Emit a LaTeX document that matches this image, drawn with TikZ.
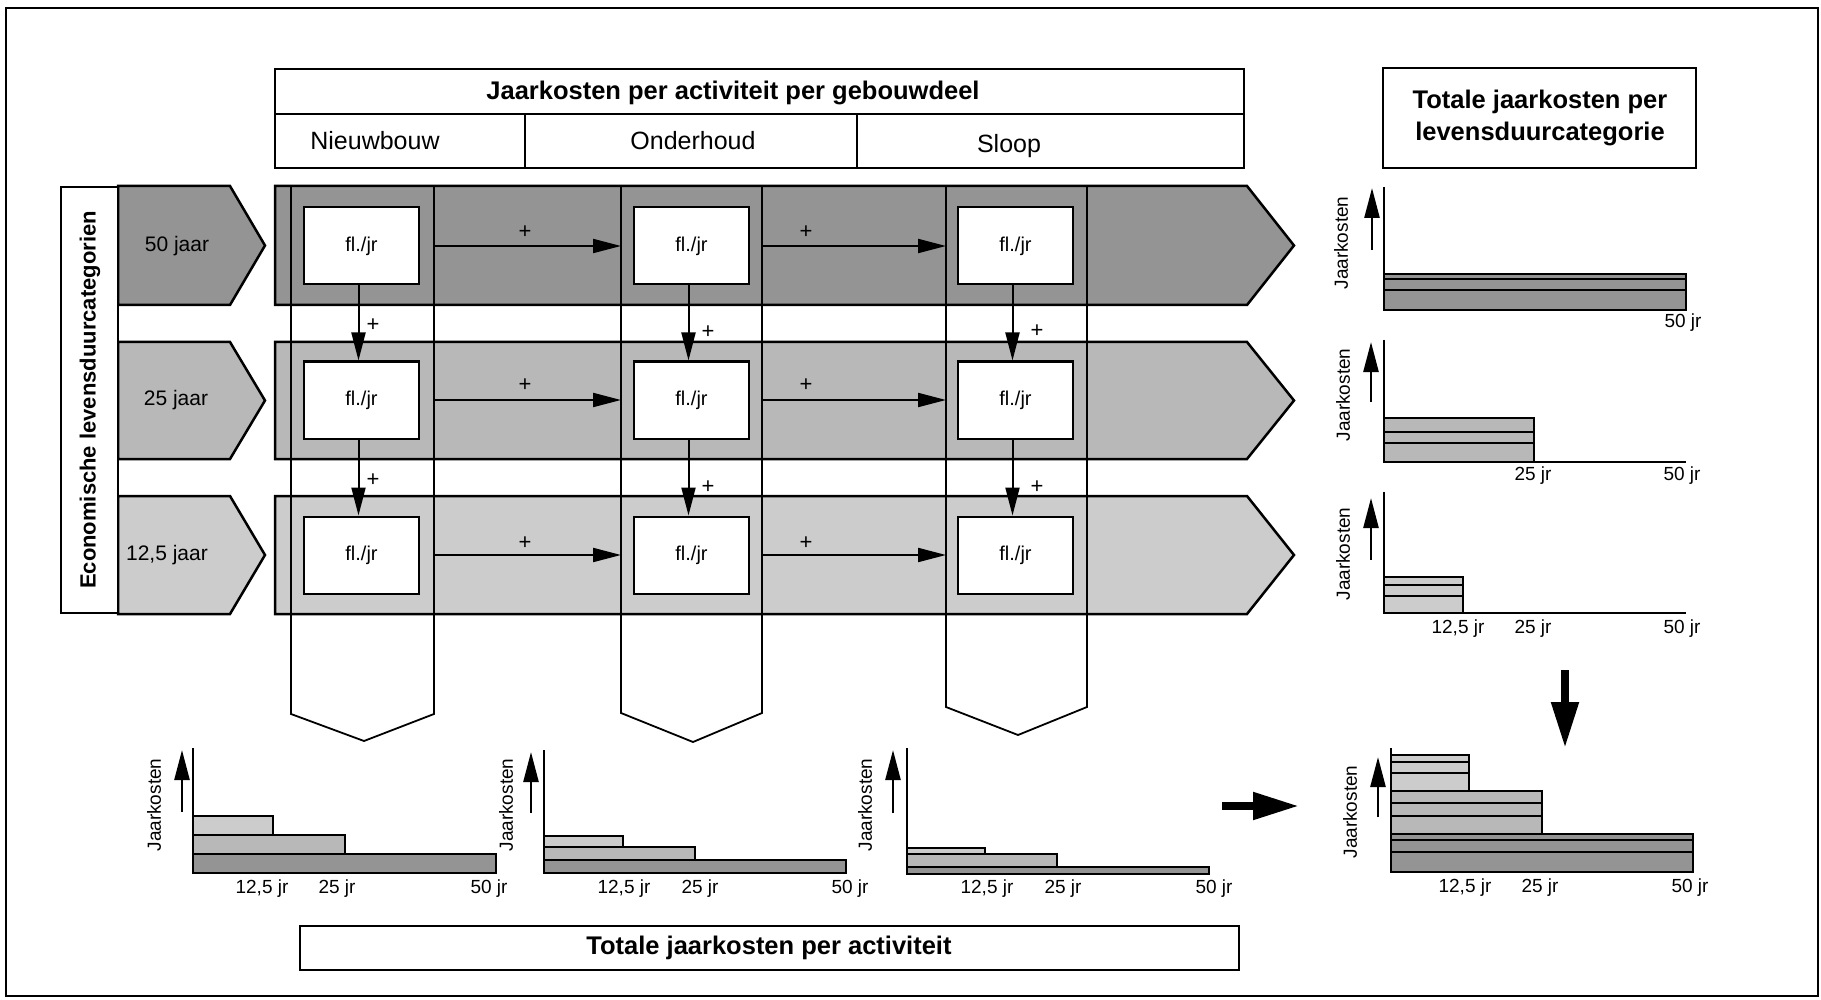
\documentclass[tikz,border=0pt]{standalone}
\usepackage{fontspec}
\setmainfont{Liberation Sans}
\usetikzlibrary{arrows.meta}
\definecolor{shA}{gray}{0.58}
\definecolor{shB}{gray}{0.72}
\definecolor{shC}{gray}{0.80}
\begin{document}
\begin{tikzpicture}[x=1pt,y=-1pt,
 rowline/.style={line width=2.5pt, line join=miter},
 colline/.style={line width=1.8pt},
 flbox/.style={draw, fill=white, line width=2pt, minimum width=115pt, minimum height=77pt, inner sep=0pt, font=\fontsize{20}{24}\selectfont},
 flow/.style={line width=2pt, -{Triangle[length=28pt,width=14pt]}},
 plus/.style={inner sep=0pt, font=\fontsize{22}{24}\selectfont},
 ttl/.style={inner sep=0pt, font=\fontsize{25.5}{32}\selectfont\bfseries},
 hdr/.style={inner sep=0pt, font=\fontsize{25}{30}\selectfont},
 yl/.style={rotate=90, inner sep=0pt, font=\fontsize{19}{22}\selectfont},
 tk/.style={inner sep=0pt, font=\fontsize{19}{22}\selectfont},
 axis/.style={line width=1.8pt},
 bar/.style={draw, line width=2pt},
 uparr/.style={line width=2.5pt, -{Triangle[length=30pt,width=15pt]}},
 bigarr/.style={line width=8pt, -{Triangle[length=46pt,width=26pt]}},
 jaar/.style={inner sep=0pt, font=\fontsize{21}{24}\selectfont},
 tbox/.style={draw, line width=2pt}]
\useasboundingbox (0,0) rectangle (1821,1000);
\fill[white] (0,0) rectangle (1821,1000);
% outer frame
\draw[line width=2pt] (6,8) rectangle (1818,996);

% header
\draw[tbox] (275,69) rectangle (1244,168);
\draw[line width=2pt] (275,114) -- (1244,114);
\draw[line width=2pt] (525,114) -- (525,168);
\draw[line width=2pt] (857,114) -- (857,168);
\node[ttl] (htitle) at (733,93) {Jaarkosten per activiteit per gebouwdeel};
\node[hdr] (hnieuw) at (375,141) {Nieuwbouw};
\node[hdr] (honder) at (693,141) {Onderhoud};
\node[hdr] (hsloop) at (1009,146) {Sloop};

% right title
\draw[tbox] (1383,68) rectangle (1696,168);
\node[ttl, align=center] (rtitle) at (1540,118) {Totale jaarkosten per\\levensduurcategorie};

% rows
\foreach \ya/\yb/\ym/\cc in {186/305/245.5/shA, 342/459/400.5/shB, 496/614/555/shC} {
 \draw[rowline, fill=\cc] (275,\ya) -- (1247,\ya) -- (1294,\ym) -- (1247,\yb) -- (275,\yb) -- cycle;
 \draw[rowline, fill=\cc] (118,\ya) -- (230,\ya) -- (265,\ym) -- (230,\yb) -- (118,\yb) -- cycle;
}
\node[jaar] (j50) at (177,246) {50 jaar};
\node[jaar] (j25) at (176,400) {25 jaar};
\node[jaar] (j12) at (167,555) {12,5 jaar};

% left label box
\draw[rowline, fill=white] (61,187) rectangle (118,613);
\node[rotate=90, inner sep=0pt, font=\fontsize{22}{26}\selectfont\bfseries] (elc) at (90,400) {Economische levensduurcategorien};

% columns
\draw[colline] (291,186) -- (291,714) -- (364,741) -- (434,714) -- (434,186);
\draw[colline] (621,186) -- (621,713) -- (693,742) -- (762,713) -- (762,186);
\draw[colline] (946,186) -- (946,707) -- (1018,735) -- (1087,707) -- (1087,186);
\coordinate (k1R) at (434,0);
\coordinate (k2L) at (621,0);
\coordinate (k2R) at (762,0);
\coordinate (k3L) at (946,0);

% boxes
\foreach \r/\yy in {1/246, 2/400, 3/555} {
 \node[flbox] (b\r1) at (361.5,\yy) {fl./jr};
 \node[flbox] (b\r2) at (691.5,\yy) {fl./jr};
 \node[flbox] (b\r3) at (1015.5,\yy) {fl./jr};
}

% horizontal arrows
\foreach \r/\py in {1/232, 2/385, 3/543} {
 \draw[flow] (k1R |- b\r1) -- (k2L |- b\r2);
 \draw[flow] (k2R |- b\r2) -- (k3L |- b\r3);
 \node[plus] (ph\r a) at (525,\py) {+};
 \node[plus] (ph\r b) at (806,\py) {+};
}
% vertical arrows
\foreach \c in {1,2,3} {
 \draw[flow] ([xshift=-3pt]b1\c.south) -- ([xshift=-3pt]b2\c.north);
 \draw[flow] ([xshift=-3pt]b2\c.south) -- ([xshift=-3pt]b3\c.north);
}
\node[plus] (pv1a) at (373,325) {+};
\node[plus] (pv2a) at (708,332) {+};
\node[plus] (pv3a) at (1037,331) {+};
\node[plus] (pv1b) at (373,480) {+};
\node[plus] (pv2b) at (708,487) {+};
\node[plus] (pv3b) at (1037,487) {+};

% ---------- right charts ----------
% R1
\draw[bar, fill=shA] (1384,274) rectangle (1686,279);
\draw[bar, fill=shA] (1384,279) rectangle (1686,290);
\draw[bar, fill=shA] (1384,290) rectangle (1686,310);
\draw[axis] (1384,187) -- (1384,310);
\coordinate (r1a) at (1372,250); \coordinate (r1b) at (1372,188);
\draw[uparr] (r1a) -- (r1b);
\node[yl] (r1y) at (1341,243) {Jaarkosten};
\node[tk] (r1t50) at (1683,323) {50 jr};
% R2
\draw[bar, fill=shB] (1384,418) rectangle (1534,432);
\draw[bar, fill=shB] (1384,432) rectangle (1534,443);
\draw[bar, fill=shB] (1384,443) rectangle (1534,462);
\draw[axis] (1384,340) -- (1384,462) -- (1686,462);
\coordinate (r2a) at (1371,402); \coordinate (r2b) at (1371,342);
\draw[uparr] (r2a) -- (r2b);
\node[yl] (r2y) at (1343,395) {Jaarkosten};
\node[tk] (r2t25) at (1533,476) {25 jr};
\node[tk] (r2t50) at (1682,476) {50 jr};
% R3
\draw[bar, fill=shC] (1384,577) rectangle (1463,585);
\draw[bar, fill=shC] (1384,585) rectangle (1463,596);
\draw[bar, fill=shC] (1384,596) rectangle (1463,613);
\draw[axis] (1384,492) -- (1384,613) -- (1686,613);
\coordinate (r3a) at (1371,560); \coordinate (r3b) at (1371,498);
\draw[uparr] (r3a) -- (r3b);
\node[yl] (r3y) at (1343,554) {Jaarkosten};
\node[tk] (r3t12) at (1458,629) {12,5 jr};
\node[tk] (r3t25) at (1533,629) {25 jr};
\node[tk] (r3t50) at (1682,629) {50 jr};

% big arrows
\coordinate (da) at (1565,670); \coordinate (db) at (1565,748);
\draw[bigarr] (da) -- (db);
\coordinate (ra) at (1222,806); \coordinate (rb) at (1299,806);
\draw[bigarr] (ra) -- (rb);

% combined chart
\draw[bar, fill=shC] (1391,755) rectangle (1469,762);
\draw[bar, fill=shC] (1391,762) rectangle (1469,773);
\draw[bar, fill=shC] (1391,773) rectangle (1469,791);
\draw[bar, fill=shB] (1391,791) rectangle (1542,803);
\draw[bar, fill=shB] (1391,803) rectangle (1542,816);
\draw[bar, fill=shB] (1391,816) rectangle (1542,834);
\draw[bar, fill=shA] (1391,834) rectangle (1693,840);
\draw[bar, fill=shA] (1391,840) rectangle (1693,852);
\draw[bar, fill=shA] (1391,852) rectangle (1693,872);
\draw[axis] (1391,748) -- (1391,872);
\coordinate (ca) at (1378,817); \coordinate (cb) at (1378,757);
\draw[uparr] (ca) -- (cb);
\node[yl] (cy) at (1350,812) {Jaarkosten};
\node[tk] (ct12) at (1465,888) {12,5 jr};
\node[tk] (ct25) at (1540,888) {25 jr};
\node[tk] (ct50) at (1690,888) {50 jr};

% ---------- bottom charts ----------
% B1
\draw[bar, fill=shC] (193,816) rectangle (273,835);
\draw[bar, fill=shB] (193,835) rectangle (345,854);
\draw[bar, fill=shA] (193,854) rectangle (496,873);
\draw[axis] (193,748) -- (193,873);
\coordinate (a1a) at (182,812); \coordinate (a1b) at (182,750);
\draw[uparr] (a1a) -- (a1b);
\node[yl] (a1y) at (154,805) {Jaarkosten};
\node[tk] (a1t12) at (262,889) {12,5 jr};
\node[tk] (a1t25) at (337,889) {25 jr};
\node[tk] (a1t50) at (489,889) {50 jr};
% B2
\draw[bar, fill=shC] (544,836) rectangle (623,847);
\draw[bar, fill=shB] (544,847) rectangle (695,860);
\draw[bar, fill=shA] (544,860) rectangle (846,873);
\draw[axis] (544,750) -- (544,873);
\coordinate (a2a) at (531,813); \coordinate (a2b) at (531,752);
\draw[uparr] (a2a) -- (a2b);
\node[yl] (a2y) at (506,805) {Jaarkosten};
\node[tk] (a2t12) at (624,889) {12,5 jr};
\node[tk] (a2t25) at (700,889) {25 jr};
\node[tk] (a2t50) at (850,889) {50 jr};
% B3
\draw[bar, fill=shC] (907,848) rectangle (985,854);
\draw[bar, fill=shB] (907,854) rectangle (1057,867);
\draw[bar, fill=shA] (907,867) rectangle (1209,874);
\draw[axis] (907,748) -- (907,874);
\coordinate (a3a) at (893,813); \coordinate (a3b) at (893,750);
\draw[uparr] (a3a) -- (a3b);
\node[yl] (a3y) at (865,805) {Jaarkosten};
\node[tk] (a3t12) at (987,889) {12,5 jr};
\node[tk] (a3t25) at (1063,889) {25 jr};
\node[tk] (a3t50) at (1214,889) {50 jr};

% bottom title
\draw[tbox] (300,926) rectangle (1239,970);
\node[ttl] (btitle) at (769,948) {Totale jaarkosten per activiteit};
\end{tikzpicture}
\end{document}
